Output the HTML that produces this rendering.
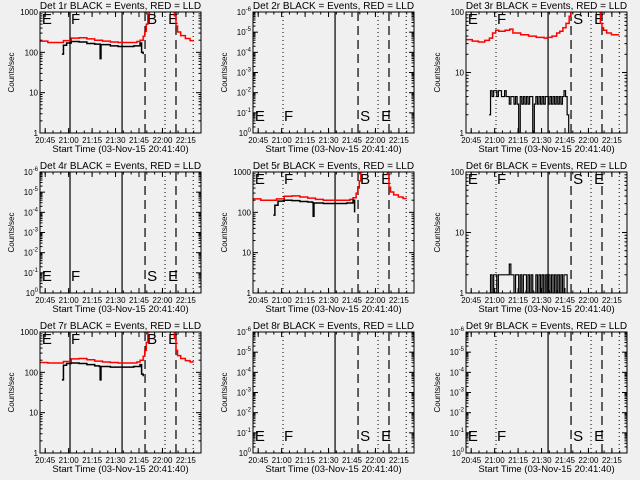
<!DOCTYPE html>
<html><head><meta charset="utf-8"><style>
html,body{margin:0;padding:0;background:#f0f0f0;}
svg{display:block;font-family:"Liberation Sans",sans-serif;}
</style></head><body>
<svg id="c" width="640" height="480" xmlns="http://www.w3.org/2000/svg">
<rect width="640" height="480" fill="#f0f0f0"/>
</svg>
<script>
// ---- data ----
const detNames = ["1r","2r","3r","4r","5r","6r","7r","8r","9r"];
const yMode = ["k3","z","k2","z","k3","k2","k3","z","z"]; // k3: 1-1000, k2: 1-100, z: zero-data axis
const xTickLabels = ["20:45","21:00","21:15","21:30","21:45","22:00","22:15"];
const xTickMinutes = [3.33,18.33,33.33,48.33,63.33,78.33,93.33];
// minutes from 20:41:40
const vSolid = [19.2, 52.5];
const vDashed = [67.2, 87];
const vDotted = [19.2, 80, 98];
const markLabels = ["E","F","S","E"];
const markMinutes = [1.2, 19.8, 68.5, 82];

const red1T = [0,5,10,15,20,25,30,35,40,45,50,55,60,62,64,66,67,68,69,70,85,86,87,88,90,93,96,98];
const red1V = [190,175,175,195,225,230,215,200,190,180,175,175,175,185,200,250,330,500,900,2000,2000,800,450,320,260,220,195,185];
const blk1T = [14,15,17,20,25,30,35,38,38.5,39,45,50,55,60,64,65,66];
const blk1V = [90,150,170,185,180,165,160,160,70,155,145,140,140,145,170,100,90];

const red5T = [0,5,10,15,20,25,30,35,40,45,50,55,60,62,64,66,67,68,69,70,85,86,87,88,90,93,96,98];
const red5V = [215,200,200,215,250,255,240,225,210,200,200,200,200,210,230,300,400,600,1000,2000,2000,900,420,320,270,240,220,215];
const blk5T = [13,14,16,20,25,30,35,38,38.5,39,45,50,55,60,64,65];
const blk5V = [85,150,190,200,195,185,180,175,80,170,165,165,165,170,200,100];

const red7T = [0,5,10,15,20,25,30,35,40,45,50,55,60,62,64,66,67,68,69,70,85,86,87,88,90,93,96,98];
const red7V = [175,170,170,185,215,220,205,190,180,175,170,170,170,180,200,250,350,550,1000,2000,2000,700,350,260,220,195,180,175];
const blk7T = [14,15,17,20,25,30,35,38,38.5,39,45,50,55,60,64,65,66];
const blk7V = [65,150,165,170,165,155,145,140,65,140,135,135,135,140,155,90,80];

const red3T = [0,4,8,12,15,17,19,21,25,28,30,35,40,45,50,52,55,58,60,62,64,66,67,85,86,87,88,90,93,96,98];
const red3V = [35,33,32,34,37,45,50,48,50,52,45,42,40,38,37,38,40,45,48,55,65,85,100,100,65,55,50,45,42,42,42];
const blk3Start = 14.7;
const blk3V = [2,5,4,5,5,4,5,5,4,4,5,4,4,3,4,4,3,4,3,1,4,3,4,3,4,3,4,4,1,3,4,3,4,3,4,3,4,4,3,4,3,4,3,4,3,4,3,4,5,4,2,1];

const blk6Start = 14.7;
const blk6V = [1,2,1,2,2,1,2,2,2,2,2,2,2,3,2,2,1,2,2,1,2,1,2,2,1,2,1,2,1,1,2,1,2,1,2,1,2,1,2,1,2,1,2,1,2,1,2,1,2,2,1,1];

const panelRed = {0:[red1T,red1V],2:[red3T,red3V],4:[red5T,red5V],6:[red7T,red7V]};
const panelBlk = {0:[blk1T,blk1V],4:[blk5T,blk5V],6:[blk7T,blk7V]};
const panelBlkSeq = {2:[blk3Start,blk3V],5:[blk6Start,blk6V]};

// ---- layout ----
const NS="http://www.w3.org/2000/svg";
const svg=document.getElementById('c');
const colL=[40,253,466], rowT=[12,172,332], PW=161, PH=121, TMAX=103;
function mk(tag,attrs,parent){const e=document.createElementNS(NS,tag);for(const k in attrs)e.setAttribute(k,attrs[k]);(parent||svg).appendChild(e);return e;}

for(let p=0;p<9;p++){
  const L=colL[p%3], T=rowT[Math.floor(p/3)], B=T+PH, R=L+PW;
  const g=mk('g',{});
  
  
  const xs=t=>L+t*PW/TMAX;
  const mode=yMode[p];
  const dec = mode==="k3"?3:mode==="k2"?2:6;
  const ys=v=>B-Math.log10(Math.max(v,1))/dec*PH;
  const cp=mk('clipPath',{id:'cp'+p},g); mk('rect',{x:L,y:T,width:PW,height:PH},cp);
  const tt=mk('text',{x:L+PW/2,y:T-3,'text-anchor':'middle','font-size':'10'},g);
  tt.textContent='Det '+detNames[p]+' BLACK = Events, RED = LLD';
  
  
  const yt=mk('text',{x:0,y:0,'text-anchor':'middle','font-size':'8',transform:'translate('+(L-26)+','+(T+PH/2)+') rotate(-90)'},g);
  yt.textContent='Counts/sec';
  
  
  for(let d=0;d<=dec;d++){
    const y=B-d/dec*PH;
    mk('line',{x1:L,x2:L+5,y1:y,y2:y,stroke:'#000'},g);
    mk('line',{x1:R-5,x2:R,y1:y,y2:y,stroke:'#000'},g);
    const lb=mk('text',{x:L-2,y:y+3,'text-anchor':'end','font-size':'8'},g);
    
    
    if(mode==="z"){ lb.textContent='10'; const s=mk('tspan',{dy:'-4','font-size':'6'},lb); s.textContent=d===0?'0':'-'+d; }
    else lb.textContent=String(Math.pow(10,d));
    if(d<dec) for(let m=2;m<10;m++){
      const ym=y-Math.log10(m)/dec*PH;
      mk('line',{x1:L,x2:L+2.5,y1:ym,y2:ym,stroke:'#000'},g);
      mk('line',{x1:R-2.5,x2:R,y1:ym,y2:ym,stroke:'#000'},g);
    }
  }
  xTickMinutes.forEach((t,i)=>{
    const x=xs(t);
    mk('line',{x1:x,x2:x,y1:B,y2:B-5,stroke:'#000'},g);
    mk('line',{x1:x,x2:x,y1:T,y2:T+5,stroke:'#000'},g);
    const lb=mk('text',{x:x,y:B+10,'text-anchor':'middle','font-size':'8'},g);
    lb.textContent=xTickLabels[i];
    
    
  });
  for(let t=xTickMinutes[0]-5;t<TMAX;t+=5){ if(t<0)continue; const x=xs(t);
    mk('line',{x1:x,x2:x,y1:B,y2:B-2.5,stroke:'#000'},g); mk('line',{x1:x,x2:x,y1:T,y2:T+2.5,stroke:'#000'},g);}
  const xt=mk('text',{x:L+PW/2,y:B+19,'text-anchor':'middle','font-size':'9.5'},g);
  xt.textContent='Start Time (03-Nov-15 20:41:40)';
  
  
  vSolid.forEach((t,i)=>{ if(i===0 && p%3!==0) return; const l=mk('line',{x1:xs(t),x2:xs(t),y1:T,y2:B,stroke:'#000','stroke-width':1.2},g);
      });
  vDashed.forEach(t=>{ const l=mk('line',{x1:xs(t),x2:xs(t),y1:T,y2:B,stroke:'#000','stroke-width':1.2,'stroke-dasharray':'9,5'},g);
      });
  vDotted.forEach(t=>{ const l=mk('line',{x1:xs(t),x2:xs(t),y1:T,y2:B,stroke:'#000','stroke-dasharray':'1,3'},g);
      });
  const ly = mode==="z" ? B-12 : T+12;
  markLabels.forEach((s,i)=>{
    let ch=s; if(i===2 && (p===0||p===4||p===6)) ch='B';
    const tx=mk('text',{x:xs(markMinutes[i]),y:ly,'font-size':'15'},g);
    tx.textContent=ch;
    
    
  });
  const stepPath=(T_,V_)=>{let d='';for(let i=0;i<T_.length;i++){const x=xs(T_[i]),y=ys(V_[i]);
    if(i===0)d+='M'+x+','+y; else if(T_[i]-T_[i-1]>8) d+='M'+x+','+y; else d+='H'+x+'V'+y;} return d;};
  if(panelRed[p]){ const pa=mk('path',{d:stepPath(panelRed[p][0],panelRed[p][1]),fill:'none',stroke:'#ff0000','stroke-width':1.5,'clip-path':'url(#cp'+p+')'},g);
      }
  if(panelBlk[p]){ const pa=mk('path',{d:stepPath(panelBlk[p][0],panelBlk[p][1]),fill:'none',stroke:'#000','stroke-width':1.5,'clip-path':'url(#cp'+p+')'},g);
      }
  if(panelBlkSeq[p]){ const [s0,vals]=panelBlkSeq[p]; const Ts=vals.map((v,i)=>s0+i); const pa=mk('path',{d:stepPath(Ts,vals),fill:'none',stroke:'#000','stroke-width':1.2,'clip-path':'url(#cp'+p+')'},g);
      }
  const fr=mk('rect',{x:L,y:T,width:PW,height:PH,fill:'none',stroke:'#000'},g);
   
}
</script>
</body></html>
